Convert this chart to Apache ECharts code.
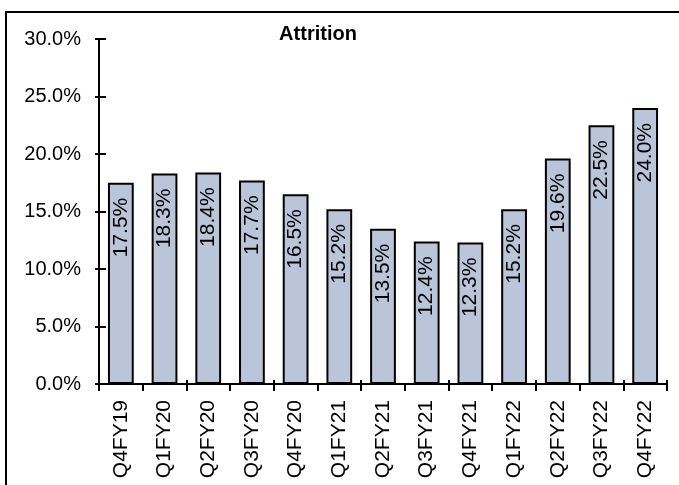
<!DOCTYPE html>
<html>
<head>
<meta charset="utf-8">
<script src="https://cdn.jsdelivr.net/npm/echarts@6/dist/echarts.min.js"></script>
<style>
  html, body { margin: 0; padding: 0; background: #fff; }
  #chart { width: 679px; height: 485px; }
</style>
</head>
<body>
<div id="chart"></div>
<script>
const quarters = ['Q4FY19', 'Q1FY20', 'Q2FY20', 'Q3FY20', 'Q4FY20', 'Q1FY21', 'Q2FY21',
  'Q3FY21', 'Q4FY21', 'Q1FY22', 'Q2FY22', 'Q3FY22', 'Q4FY22']
const attrition = [17.5, 18.3, 18.4, 17.7, 16.5, 15.2, 13.5, 12.4, 12.3, 15.2, 19.6, 22.5, 24.0]

const font = 'Liberation Sans, Arial, sans-serif'
const chart = echarts.init(document.getElementById('chart'))

const option = {
  animation: false,
  title: {
    text: 'Attrition',
    left: 313,
    top: 19,
    textAlign: 'center',
    textStyle: { fontFamily: font, fontSize: 20, fontWeight: 'bold', color: '#000' }
  },
  graphic: [
    {
      type: 'rect',
      shape: { x: 6, y: 12, width: 690, height: 490 },
      style: { fill: 'none', stroke: '#000', lineWidth: 2 },
      silent: true
    }
  ],
  grid: { left: 99, right: 12, top: 39, bottom: 101 },
  xAxis: [
    {
      type: 'category',
      data: quarters,
      axisLine: { lineStyle: { color: '#000', width: 2 } },
      axisTick: { show: true, length: 7, lineStyle: { color: '#000', width: 2 } },
      axisLabel: { rotate: 90, fontFamily: font, fontSize: 21, color: '#000', margin: 16 }
    },
    {
      type: 'category',
      data: quarters,
      position: 'bottom',
      axisLine: { show: false },
      axisTick: { show: true, inside: true, length: 4, lineStyle: { color: '#000', width: 2 } },
      axisLabel: { show: false }
    }
  ],
  yAxis: [
    {
      type: 'value',
      min: 0,
      max: 30,
      interval: 5,
      splitLine: { show: false },
      axisLine: { show: true, lineStyle: { color: '#000', width: 2 } },
      axisTick: { show: true, length: 4, lineStyle: { color: '#000', width: 2 } },
      axisLabel: {
        formatter: (v) => v.toFixed(1) + '%',
        fontFamily: font,
        fontSize: 20,
        color: '#000',
        margin: 18
      }
    },
    {
      type: 'value',
      min: 0,
      max: 30,
      interval: 5,
      position: 'left',
      splitLine: { show: false },
      axisLine: { show: false },
      axisTick: { show: true, inside: true, length: 7, lineStyle: { color: '#000', width: 2 } },
      axisLabel: { show: false }
    }
  ],
  series: [
    {
      type: 'bar',
      data: attrition,
      barWidth: '59%',
      itemStyle: { color: '#bac5da', borderColor: '#000', borderWidth: 2 },
      label: {
        show: true,
        position: 'insideTop',
        rotate: 90,
        align: 'right',
        verticalAlign: 'middle',
        distance: 17,
        offset: [2, 0],
        formatter: (p) => p.value.toFixed(1) + '%',
        fontFamily: font,
        fontSize: 21,
        color: '#000'
      }
    }
  ]
}

chart.setOption(option)
</script>
</body>
</html>
